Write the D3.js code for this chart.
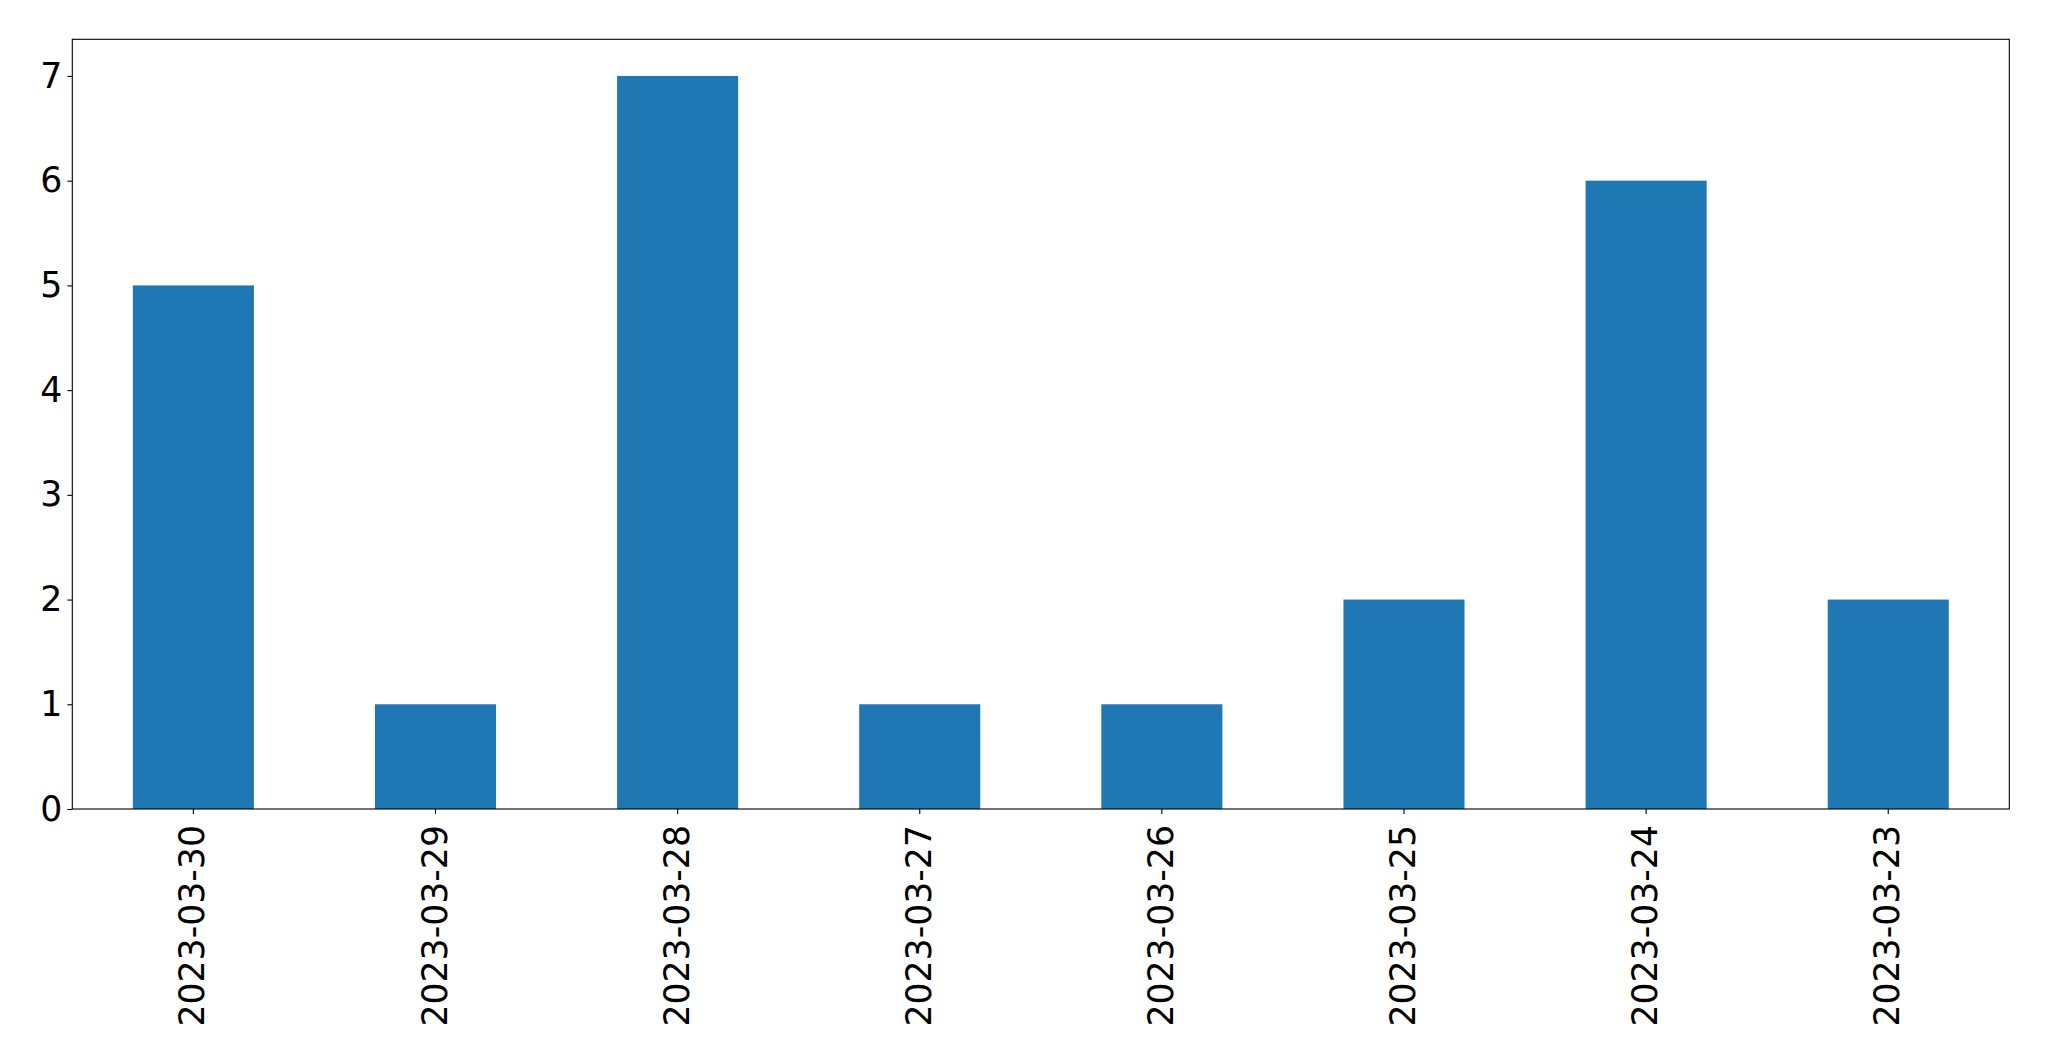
<!DOCTYPE html>
<html>
<head>
<meta charset="utf-8">
<script src="https://cdn.jsdelivr.net/npm/d3@7"></script>
<style>
html, body { margin: 0; padding: 0; background: #fff; }
svg { display: block; }
</style>
</head>
<body>
<svg id="chart" width="2049" height="1061"></svg>
<script>
const categories = ["2023-03-30", "2023-03-29", "2023-03-28", "2023-03-27", "2023-03-26", "2023-03-25", "2023-03-24", "2023-03-23"];
const values = [5, 1, 7, 1, 1, 2, 6, 2];
const yTicks = [0, 1, 2, 3, 4, 5, 6, 7];

const W = 2049, H = 1061;
const margin = { left: 72.3, right: 2049 - 2009.3, top: 39.3, bottom: 1061 - 809 };
const svg = d3.select("#chart");
const iw = W - margin.left - margin.right;
const ih = H - margin.top - margin.bottom;
const g = svg.append("g").attr("transform", `translate(${margin.left},${margin.top})`);

const x = d3.scaleBand().domain(categories).range([0, iw]).paddingInner(0.5).paddingOuter(0.25);
const y = d3.scaleLinear().domain([0, 7.35]).range([ih, 0]);

g.selectAll("rect.bar").data(values).enter().append("rect")
  .attr("class", "bar")
  .attr("x", (d, i) => x(categories[i]))
  .attr("y", d => y(d))
  .attr("width", x.bandwidth())
  .attr("height", d => y(0) - y(d))
  .attr("fill", "#1f77b4");

const fs = 34.7;
const yAxis = d3.axisLeft(y).tickValues(yTicks).tickFormat(d3.format("d")).tickSize(4.9).tickPadding(5.2);
const ya = g.append("g").call(yAxis).attr("font-family", "DejaVu Sans").attr("font-size", fs);
ya.select(".domain").remove();
ya.selectAll("line").attr("stroke", "#000").attr("stroke-width", 1.1);
ya.selectAll("text").style("font-size", fs + "px").style("font-family", "'DejaVu Sans'").attr("fill", "#000");

const xAxis = d3.axisBottom(x).tickSize(4.9).tickPadding(0);
const xa = g.append("g").attr("transform", `translate(0,${ih})`).call(xAxis).attr("font-family", "DejaVu Sans").attr("font-size", fs);
xa.select(".domain").remove();
xa.selectAll("line").attr("stroke", "#000").attr("stroke-width", 1.1);
xa.selectAll("text")
  .style("font-size", fs + "px").style("font-family", "'DejaVu Sans'").attr("fill", "#000")
  .attr("transform", "rotate(-90)")
  .attr("text-anchor", "end")
  .attr("x", -16)
  .attr("y", 0)
  .attr("dy", "0.32em");

g.append("rect").attr("x", 0).attr("y", 0).attr("width", iw).attr("height", ih)
  .attr("fill", "none").attr("stroke", "#000").attr("stroke-width", 1.1);
</script>
</body>
</html>
